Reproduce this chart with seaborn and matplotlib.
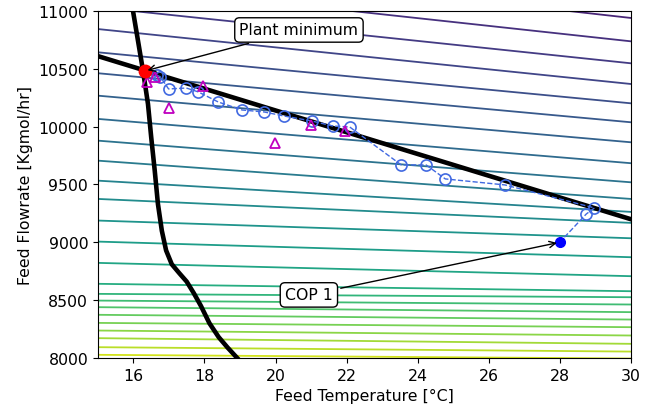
import numpy as np
import pandas as pd
import seaborn as sns
import matplotlib
matplotlib.use("Agg")
import matplotlib.pyplot as plt

# Contour lines: flowrate at the left (15 C) and right (30 C) edge
contour_left = [11458, 11239, 11032, 10844, 10643, 10462, 10268, 10067, 9879, 9706,
                9533, 9375, 9188, 9006, 8822, 8641, 8554, 8496, 8439, 8373,
                8303, 8237, 8171, 8093, 8027]
contour_right = [10940, 10738, 10548, 10369, 10202, 10038, 9865, 9684, 9519, 9375,
                 9263, 9168, 9035, 8871, 8707, 8577, 8525, 8462, 8396, 8332,
                 8266, 8194, 8122, 8055, 7995]
edge_temp = [15, 30]

# Thick black boundary lines
line_temp = [15, 30]
line_flow = [10610, 9200]
curve_temp = [15.99, 16.27, 16.41, 16.50, 16.60, 16.69, 16.80, 16.92, 17.08, 17.30,
              17.50, 17.70, 17.90, 18.14, 18.40, 18.65, 18.92]
curve_flow = [10997, 10484, 10196, 9911, 9620, 9332, 9100, 8930, 8810, 8730,
              8660, 8560, 8450, 8300, 8180, 8090, 8000]

# Optimisation path (open circles) ending at COP 1
path_temp = [16.65, 16.76, 16.99, 17.49, 17.83, 18.39, 19.06, 19.68, 20.24, 21.02,
             21.61, 22.09, 23.54, 24.24, 24.78, 26.46, 28.98, 28.75]
path_flow = [10447, 10430, 10326, 10334, 10300, 10213, 10144, 10127, 10092, 10049,
             10006, 9997, 9669, 9669, 9548, 9496, 9297, 9245]
cop_temp, cop_flow = 28.0, 9000

# Plant data (magenta triangles)
plant_temp = [16.37, 16.60, 17.97, 16.99, 20.99, 21.97, 19.99]
plant_flow = [10386, 10430, 10352, 10162, 10015, 9963, 9859]

min_temp, min_flow = 16.32, 10481

plt.rcParams["font.size"] = 11.3

rows = []
for i, (yl, yr) in enumerate(zip(contour_left, contour_right)):
    for x, y in zip(edge_temp, [yl, yr]):
        rows.append({"level": i, "temp": x, "flow": y})
contours = pd.DataFrame(rows)

fig = plt.figure(figsize=(6.57, 4.14), dpi=100)
ax = fig.add_axes([0.149, 0.133, 0.811, 0.838])

sns.lineplot(data=contours, x="temp", y="flow", hue="level",
             palette=sns.color_palette("viridis", len(contour_left) + 3)[2:-1],
             estimator=None, sort=False, legend=False, linewidth=1.3, ax=ax)

ax.plot(line_temp, line_flow, color="k", linewidth=3.3)
ax.plot(curve_temp, curve_flow, color="k", linewidth=3.3)

path = pd.DataFrame({"temp": path_temp + [cop_temp], "flow": path_flow + [cop_flow]})
ax.plot(path["temp"], path["flow"], "--", color="royalblue", linewidth=1)
ax.plot(path_temp, path_flow, "o", mfc="none", mec="royalblue", ms=8, mew=1.2)
ax.plot(plant_temp, plant_flow, "^", mfc="none", mec="m", ms=7, mew=1.3)
ax.plot(cop_temp, cop_flow, "o", color="b", ms=7)
ax.plot(min_temp, min_flow, "o", color="r", ms=9)

box = dict(boxstyle="round", fc="w", ec="k")
ax.annotate("Plant minimum", xy=(min_temp, min_flow), xytext=(20.66, 10836),
            ha="center", va="center", fontsize=11.3, bbox=box,
            arrowprops=dict(arrowstyle="->", color="k"))
ax.annotate("COP 1", xy=(cop_temp, cop_flow), xytext=(20.94, 8545),
            ha="center", va="center", fontsize=11.3, bbox=box,
            arrowprops=dict(arrowstyle="->", color="k"))

ax.set_xlim(15, 30)
ax.set_ylim(8000, 11000)
ax.set_xticks([16, 18, 20, 22, 24, 26, 28, 30])
ax.set_xlabel("Feed Temperature [°C]")
ax.set_ylabel("Feed Flowrate [Kgmol/hr]")

fig.savefig("out.png", dpi=100)
